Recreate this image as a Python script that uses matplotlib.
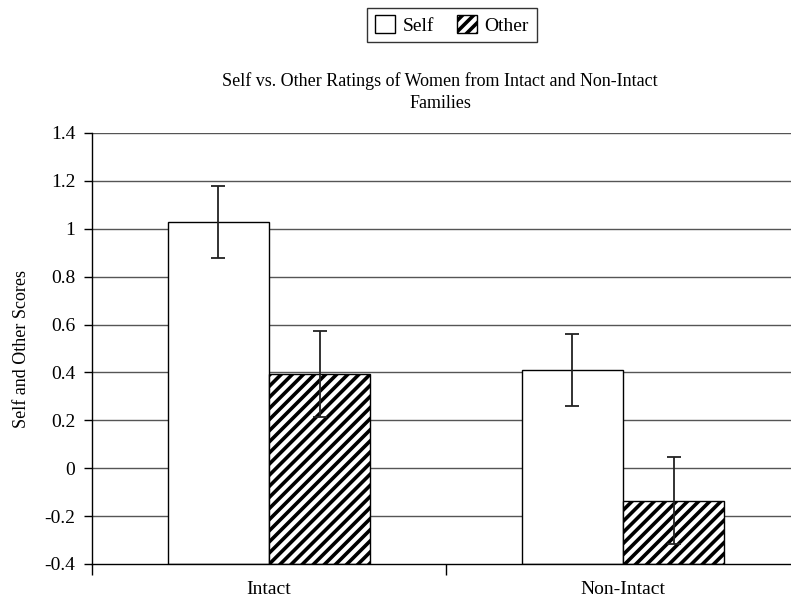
import matplotlib
matplotlib.use("Agg")
import matplotlib.pyplot as plt
import numpy as np

plt.rcParams['font.family'] = ['Liberation Serif', 'DejaVu Serif']
plt.rcParams['hatch.linewidth'] = 2.6

categories = ["Intact", "Non-Intact"]
series_names = ["Self", "Other"]
self_vals = [1.03, 0.41]
other_vals = [0.395, -0.135]
self_err = [0.15, 0.15]
other_err = [0.18, 0.18]
yticks = [-0.4, -0.2, 0, 0.2, 0.4, 0.6, 0.8, 1, 1.2, 1.4]
ytick_labels = ["-0.4", "-0.2", "0", "0.2", "0.4", "0.6", "0.8", "1", "1.2", "1.4"]

fig = plt.figure(figsize=(7.91, 6.01), dpi=100)
ax = fig.add_axes([92/791, 1-564/601, 708/791, (564-133)/601])

base = -0.4
x = np.arange(len(categories)) + 0.5
w = 0.286

for y in yticks[1:]:
    ax.axhline(y, color='#555555', lw=1.0, zorder=0)

b1 = ax.bar(x - w/2, np.array(self_vals) - base, w, bottom=base, color='white',
            edgecolor='black', lw=1.0, label=series_names[0], zorder=2)
b2 = ax.bar(x + w/2, np.array(other_vals) - base, w, bottom=base, color='white',
            edgecolor='black', lw=1.0, hatch='///', label=series_names[1], zorder=2)
ax.errorbar(x - w/2, self_vals, yerr=self_err, fmt='none', ecolor='#222222',
            elinewidth=1.3, capsize=5, capthick=1.3, zorder=3)
ax.errorbar(x + w/2, other_vals, yerr=other_err, fmt='none', ecolor='#222222',
            elinewidth=1.3, capsize=5, capthick=1.3, zorder=3)

ax.set_xlim(0, 2)
ax.set_ylim(-0.4, 1.4)
ax.set_yticks(yticks)
ax.set_yticklabels(ytick_labels, fontsize=14)
ax.set_xticks([0, 1, 2])
ax.set_xticklabels([])
ax.set_xticks(x, minor=True)
ax.set_xticklabels(categories, minor=True, fontsize=14)
ax.tick_params(axis='x', which='minor', length=0, pad=12)
ax.tick_params(axis='x', which='major', length=8, direction='out', width=1)
ax.tick_params(axis='y', length=6, direction='out', width=1, pad=6)
for s in ['top', 'right']:
    ax.spines[s].set_visible(False)
ax.spines['left'].set_linewidth(1.0)
ax.spines['bottom'].set_linewidth(1.0)

ax.set_ylabel("Self and Other Scores", fontsize=13, labelpad=10)
fig.text(440/791, 1-92/601, "Self vs. Other Ratings of Women from Intact and Non-Intact\nFamilies",
         ha='center', va='center', fontsize=13, linespacing=1.4)

leg = fig.legend(handles=[b1, b2], labels=series_names, loc='center',
                 bbox_to_anchor=(452/791, 1-25/601), ncol=2, fontsize=14,
                 frameon=True, fancybox=False, edgecolor='black',
                 handlelength=1.0, handleheight=1.0, handletextpad=0.4,
                 columnspacing=1.2, borderpad=0.4)
leg.get_frame().set_linewidth(1.0)

fig.savefig("out.png", dpi=100)
